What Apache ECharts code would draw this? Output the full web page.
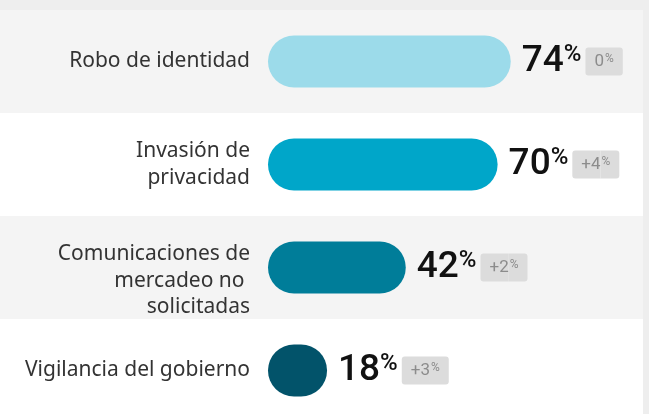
<!DOCTYPE html>
<html>
<head>
<meta charset="utf-8">
<script src="https://cdn.jsdelivr.net/npm/echarts@6/dist/echarts.min.js"></script>
<style>
  html, body { margin: 0; padding: 0; background: #eeeeee; }
  #chart { width: 649px; height: 414px; }
</style>
</head>
<body>
<div id="chart"></div>
<script>
const categories = [
  'Robo de identidad',
  'Invasión de\nprivacidad',
  'Comunicaciones de\nmercadeo no \nsolicitadas',
  'Vigilancia del gobierno'
]
const values = [74, 70, 42, 18]
const changes = ['0', '+4', '+2', '+3']
const barColors = ['#9cdbea', '#00a6c9', '#007d99', '#02536a']

const chart = echarts.init(document.getElementById('chart'))

const option = {
  backgroundColor: '#eeeeee',
  animation: false,
  grid: [
    // barras
    { left: 268, width: 328, top: 10, height: 412, outerBoundsMode: 'none' },
    // fondo de filas (la última sale un poco por abajo)
    { left: 0, right: 6, top: 10, height: 412, outerBoundsMode: 'none' }
  ],
  xAxis: [
    { type: 'value', gridIndex: 0, min: 0, max: 100, show: false },
    { type: 'value', gridIndex: 1, min: 0, max: 100, show: false }
  ],
  yAxis: [
    {
      type: 'category',
      gridIndex: 0,
      inverse: true,
      data: categories,
      axisLine: { show: false },
      axisTick: { show: false },
      axisLabel: {
        margin: 18,
        fontFamily: 'Noto Sans',
        fontSize: 21,
        lineHeight: 26.5,
        color: '#333333',
        align: 'right',
        // la etiqueta de 3 lineas va algo más abajo
        formatter: (value, index) => (index === 2 ? '{gap|}\n' + value : value),
        rich: {
          gap: { height: 27, lineHeight: 27 }
        }
      }
    },
    {
      type: 'category',
      gridIndex: 1,
      inverse: true,
      data: categories,
      axisLine: { show: false },
      axisTick: { show: false },
      axisLabel: { show: false },
      splitArea: {
        show: true,
        interval: 0,
        areaStyle: { color: ['#f4f4f4', '#ffffff'] }
      }
    }
  ],
  series: [
    {
      type: 'bar',
      xAxisIndex: 0,
      yAxisIndex: 0,
      barWidth: 52,
      data: values.map((v, i) => ({
        value: v,
        itemStyle: { color: barColors[i] }
      })),
      itemStyle: { borderRadius: 26 },
      label: {
        show: true,
        position: 'right',
        distance: 11,
        formatter: p =>
          `{v|${p.value}}{p|%}{bn|${changes[p.dataIndex]}}{bp|%}`,
        rich: {
          v: {
            fontFamily: 'Roboto',
            fontWeight: 500,
            fontSize: 37,
            color: '#111111'
          },
          p: {
            fontFamily: 'Roboto',
            fontWeight: 500,
            fontSize: 24,
            color: '#111111',
            padding: [0, 4, 13, 0]
          },
          bn: {
            fontFamily: 'Roboto',
            fontSize: 17,
            color: '#8c8c8c',
            backgroundColor: '#dcdcdc',
            height: 20,
            padding: [4, 0, 4, 9],
            borderRadius: [3, 0, 0, 3]
          },
          bp: {
            fontFamily: 'Roboto',
            fontSize: 12,
            color: '#8c8c8c',
            backgroundColor: '#dcdcdc',
            height: 14,
            padding: [4, 9, 10, 1],
            borderRadius: [0, 3, 3, 0]
          }
        }
      }
    }
  ]
}

chart.setOption(option)
</script>
</body>
</html>
